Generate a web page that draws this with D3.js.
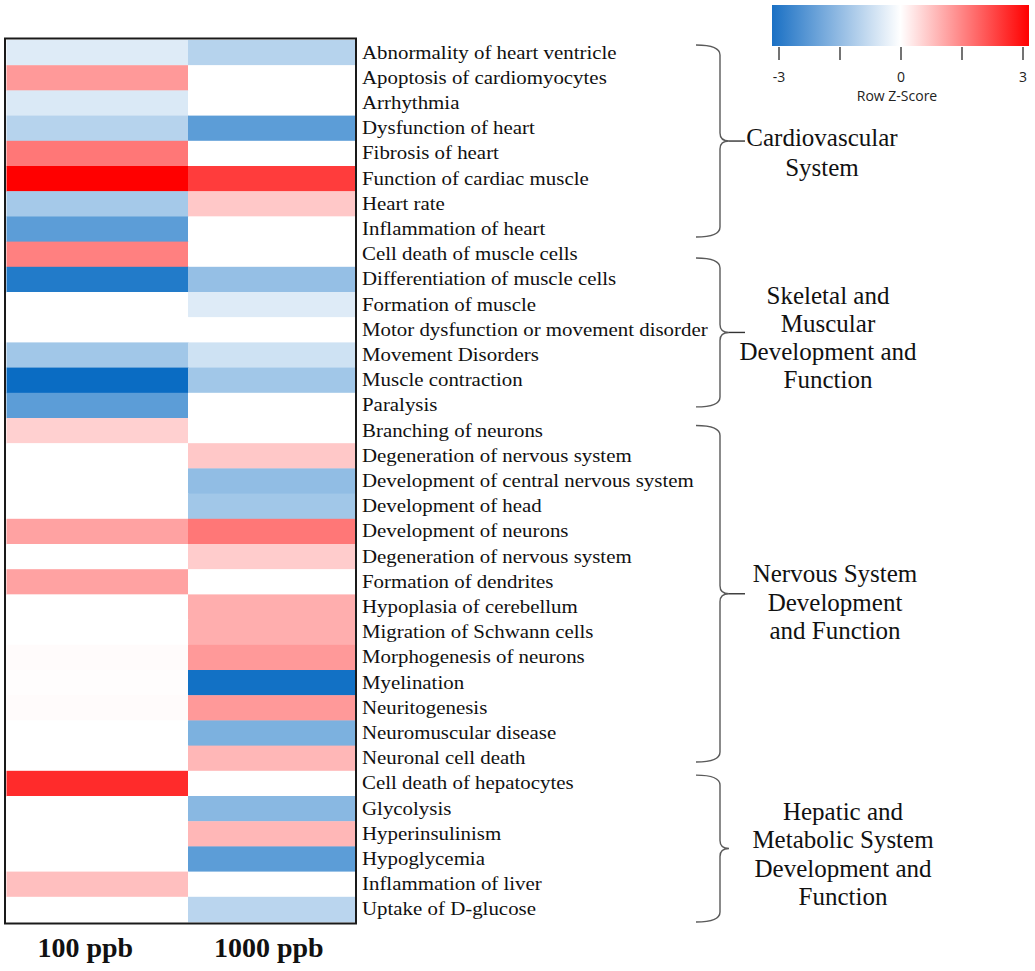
<!DOCTYPE html>
<html><head><meta charset="utf-8">
<script src="https://cdn.jsdelivr.net/npm/d3@7"></script>
<style>html,body{margin:0;padding:0;background:#fff;}</style>
</head><body>
<svg id="chart" width="1035" height="971"></svg>
<script>
const rowLabels = [
  "Abnormality of heart ventricle","Apoptosis of cardiomyocytes","Arrhythmia","Dysfunction of heart",
  "Fibrosis of heart","Function of cardiac muscle","Heart rate","Inflammation of heart",
  "Cell death of muscle cells","Differentiation of muscle cells","Formation of muscle",
  "Motor dysfunction or movement disorder","Movement Disorders","Muscle contraction","Paralysis",
  "Branching of neurons","Degeneration of nervous system","Development of central nervous system",
  "Development of head","Development of neurons","Degeneration of nervous system","Formation of dendrites",
  "Hypoplasia of cerebellum","Migration of Schwann cells","Morphogenesis of neurons","Myelination",
  "Neuritogenesis","Neuromuscular disease","Neuronal cell death","Cell death of hepatocytes",
  "Glycolysis","Hyperinsulinism","Hypoglycemia","Inflammation of liver","Uptake of D-glucose"
];
const columns = ["100 ppb","1000 ppb"];
const values100 = [-0.4,1.2,-0.45,-0.9,1.6,3.0,-1.1,-2.0,1.5,-2.7,0,0,-1.15,-3.0,-2.0,
  0.55,0,0,0,1.1,0,1.1,0,0,0.05,0.02,0.05,0,0,2.5,0,0,0,0.75,0];
const values1000 = [-0.9,0,0,-2.0,0,2.3,0.65,0,0,-1.3,-0.4,0,-0.6,-1.15,0,
  0,0.65,-1.35,-1.15,1.6,0.6,0,0.95,0.95,1.2,-2.9,1.2,-1.6,0.85,0,-1.45,0.85,-2.0,0,-0.85];
const groupNames = [["Cardiovascular","System"],["Skeletal and","Muscular","Development and","Function"],
  ["Nervous System","Development","and Function"],["Hepatic and","Metabolic System","Development and","Function"]];
const groupStart = [0.2,8.65,15.3,29.17];
const groupEnd = [7.82,14.56,28.65,35.0];
const legendTicks = [-3,-1.5,0,1.5,3];
const legendLabels = [-3,0,3];

const svg = d3.select("#chart");
const top0 = 40, rowH = 25.2;
const y = d3.scaleLinear().domain([0, rowLabels.length]).range([top0, top0 + rowH*rowLabels.length]);
const x = d3.scaleBand().domain(columns).range([6.5, 369.5]).paddingInner(0);
const color = d3.scaleLinear().domain([-3,0,3]).range(["#0a6cc3","#ffffff","#ff0000"]).clamp(true);

const defs = svg.append("defs");
defs.append("clipPath").attr("id","hmclip").append("rect")
  .attr("x",6).attr("y",top0-1).attr("width",349).attr("height",rowH*rowLabels.length+2);

const cells = [];
rowLabels.forEach((r,i)=>{
  cells.push({row:i,col:columns[0],v:values100[i]});
  cells.push({row:i,col:columns[1],v:values1000[i]});
});
svg.append("g").attr("clip-path","url(#hmclip)").selectAll("rect").data(cells).join("rect")
  .attr("x", d=>x(d.col)).attr("y", d=>y(d.row))
  .attr("width", x.bandwidth()+0.5).attr("height", rowH+0.4)
  .attr("fill", d=>color(d.v));

// frame
svg.append("rect").attr("x",5).attr("y",38.5).attr("width",351).attr("height",885)
  .attr("fill","none").attr("stroke","#1a1a1a").attr("stroke-width",2);

// row labels
svg.append("g").selectAll("text").data(rowLabels).join("text")
  .attr("transform",(d,i)=>`translate(362,${y(i+0.5)+6}) scale(1.13,1)`)
  .attr("font-family","'Liberation Serif','Times New Roman',serif")
  .attr("font-size",18.5).attr("fill","#111").text(d=>d);

// column labels
svg.append("g").selectAll("text").data(columns).join("text")
  .attr("x",d=>x(d)+x.bandwidth()/2 - (d===columns[0]?12:10)).attr("y",957)
  .attr("text-anchor","middle")
  .attr("font-family","'Liberation Serif','Times New Roman',serif")
  .attr("font-weight","bold").attr("font-size",28).attr("fill","#111").text(d=>d);

// brackets
const bx0 = 696, bx1 = 720, bx2 = 729;
const gB = svg.append("g");
const labelCx = [822,828,835,843];
const labelMidOff = [12,5.6,9,6];
const labelLH = [30,27.7,28.5,28.3];
groupNames.forEach((lines,gi)=>{
  const t = y(groupStart[gi]), b = y(groupEnd[gi]), m = (t+b)/2;
  const p = `M${bx0},${t} Q${bx1},${t} ${bx1},${t+10} L${bx1},${m-8} Q${bx1},${m} ${bx2},${m} Q${bx1},${m} ${bx1},${m+8} L${bx1},${b-10} Q${bx1},${b} ${bx0},${b}`;
  gB.append("path").attr("d",p).attr("fill","none").attr("stroke","#5a5a5a").attr("stroke-width",1.4);
  if (gi < 3) gB.append("line").attr("x1",bx2).attr("x2",745).attr("y1",m).attr("y2",m)
    .attr("stroke","#333").attr("stroke-width",1.4);
  const lh = labelLH[gi];
  const firstY = m + labelMidOff[gi] - lh*(lines.length-1)/2;
  lines.forEach((ln,li)=>{
    gB.append("text").attr("x",labelCx[gi]).attr("y",firstY + li*lh + 8)
      .attr("text-anchor","middle")
      .attr("font-family","'Liberation Serif','Times New Roman',serif")
      .attr("font-size",25).attr("fill","#111").text(ln);
  });
});

// legend
const lx = d3.scaleLinear().domain([-3,3]).range([779,1023]);
const grad = defs.append("linearGradient").attr("id","zgrad");
[["#1a70c4","0%"],["#ffffff","50%"],["#ff0000","100%"]].forEach(([c,o])=>{
  grad.append("stop").attr("offset",o).attr("stop-color",c);
});
svg.append("rect").attr("x",772).attr("y",5).attr("width",257).attr("height",41).attr("fill","url(#zgrad)");
const lg = svg.append("g");
lg.selectAll("line").data(legendTicks).join("line")
  .attr("x1",d=>lx(d)).attr("x2",d=>lx(d)).attr("y1",47).attr("y2",60)
  .attr("stroke","#444").attr("stroke-width",1.5);
lg.selectAll("text").data(legendLabels).join("text")
  .attr("x",d=>lx(d)).attr("y",82).attr("text-anchor","middle")
  .attr("font-family","'Open Sans','Liberation Sans',sans-serif").attr("font-size",14).attr("fill","#222")
  .text(d=>d);
svg.append("text").attr("x",897).attr("y",101).attr("text-anchor","middle")
  .attr("font-family","'Open Sans','Liberation Sans',sans-serif").attr("font-size",14).attr("fill","#222")
  .text("Row Z-Score");
</script>
</body></html>
